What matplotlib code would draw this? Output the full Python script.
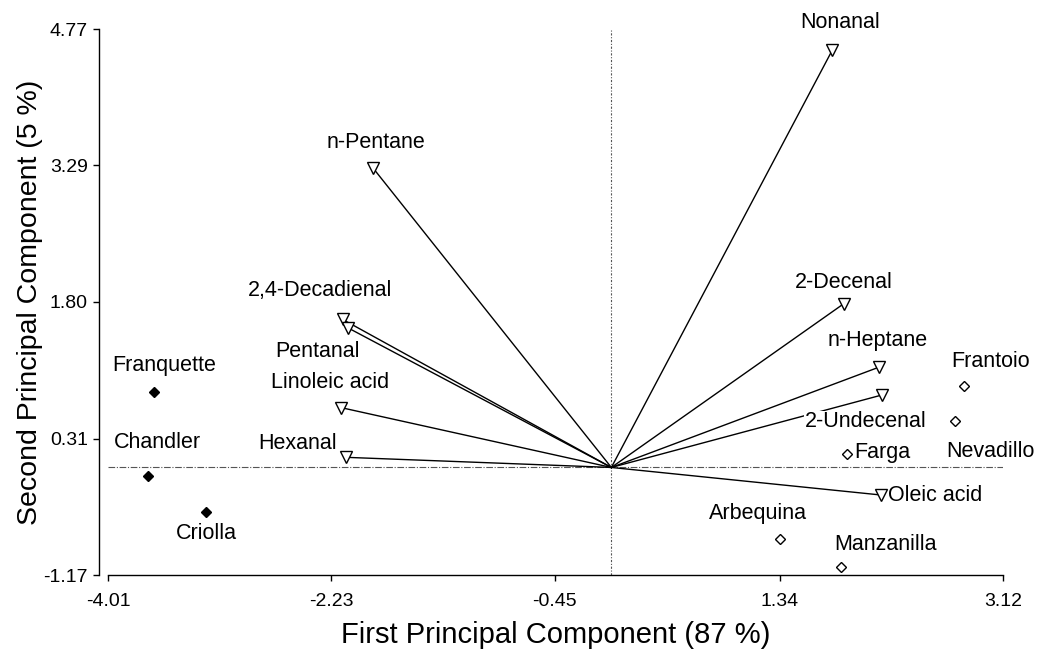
import matplotlib
matplotlib.use("Agg")
import matplotlib.pyplot as plt

# ── Data ──────────────────────────────────────────────────────────────────────

var_names = ["Nonanal", "n-Pentane", "2-Decenal", "n-Heptane", "2-Undecenal",
             "2,4-Decadienal", "Pentanal", "Linoleic acid", "Hexanal", "Oleic acid"]
var_x = [1.76, -1.90, 1.85, 2.13, 2.16, -2.14, -2.10, -2.15, -2.11, 2.15]
var_y = [4.54, 3.26, 1.78, 1.09, 0.79, 1.61, 1.52, 0.65, 0.11, -0.30]

cult_names = ["Franquette", "Chandler", "Criolla", "Frantoio", "Nevadillo",
              "Farga", "Arbequina", "Manzanilla"]
cult_x = [-3.64, -3.69, -3.23, 2.81, 2.74, 1.88, 1.34, 1.83]
cult_y = [0.82, -0.09, -0.48, 0.89, 0.51, 0.15, -0.78, -1.08]
cult_filled = [True, True, True, False, False, False, False, False]

xticks = [-4.01, -2.23, -0.45, 1.34, 3.12]
yticks = [-1.17, 0.31, 1.80, 3.29, 4.77]

# label offsets in pixels (dx, dy, ha)
VAR_OFF = {
    "Nonanal":        (8, 28, "center"),
    "n-Pentane":      (3, 25, "center"),
    "2-Decenal":      (0, 21, "center"),
    "n-Heptane":      (-1, 27, "center"),
    "2-Undecenal":    (-17, -27, "center"),
    "2,4-Decadienal": (-23, 29, "center"),
    "Pentanal":       (-30, -24, "center"),
    "Linoleic acid":  (-11, 25, "center"),
    "Hexanal":        (-49, 14, "center"),
    "Oleic acid":     (7, 0, "left"),
}
CULT_OFF = {
    "Franquette": (10, 27, "center"),
    "Chandler":   (9, 33, "center"),
    "Criolla":    (0, -22, "center"),
    "Frantoio":   (26, 24, "center"),
    "Nevadillo":  (35, -31, "center"),
    "Farga":      (7, 1, "left"),
    "Arbequina":  (-22, 26, "center"),
    "Manzanilla": (44, 22, "center"),
}

plt.rcParams["font.family"] = ["Liberation Sans", "DejaVu Sans"]

fig = plt.figure(figsize=(10.39, 6.5), dpi=100)
ax = fig.add_axes([108 / 1039, 75 / 650, 895 / 1039, 546 / 650])
ax.set_xlim(-4.01, 3.12)
ax.set_ylim(-1.17, 4.77)

# reference axes through origin
ax.axvline(0, color="#555555", lw=0.8, ls=(0, (2, 1.5, 1, 1.5)), zorder=1)
ax.axhline(0, color="#555555", lw=0.8, ls=(0, (6, 1.5, 1, 1.5)), zorder=1)

# loading vectors
for x, y in zip(var_x, var_y):
    ax.plot([0, x], [0, y], color="black", lw=1.0, zorder=2)
ax.plot(var_x, var_y, ls="none", marker="v", ms=8, mfc="white",
        mec="black", mew=1.0, zorder=4)

for name, x, y in zip(var_names, var_x, var_y):
    dx, dy, ha = VAR_OFF[name]
    bbox = None
    if name == "2-Undecenal":
        bbox = dict(facecolor="white", edgecolor="none", pad=0.5)
    ax.annotate(name, (x, y), xytext=(dx, dy), textcoords="offset pixels",
                ha=ha, va="center", fontsize=15.5, zorder=5, bbox=bbox)

# cultivars
for name, x, y, filled in zip(cult_names, cult_x, cult_y, cult_filled):
    ax.plot(x, y, ls="none", marker="D", ms=5.5 if filled else 5,
            mfc="black" if filled else "white", mec="black", mew=1.0, zorder=4)
    dx, dy, ha = CULT_OFF[name]
    ax.annotate(name, (x, y), xytext=(dx, dy), textcoords="offset pixels",
                ha=ha, va="center", fontsize=15.5, zorder=5)

# axes styling
ax.spines[["top", "right"]].set_visible(False)
ax.spines["left"].set_position(("outward", 6.5))
ax.spines["left"].set_linewidth(1.0)
ax.spines["bottom"].set_linewidth(1.0)
ax.set_xticks(xticks)
ax.set_xticklabels([f"{v:.2f}" for v in xticks])
ax.set_yticks(yticks)
ax.set_yticklabels([f"{v:.2f}" for v in yticks])
ax.tick_params(direction="out", length=4, width=1.0, labelsize=14)
ax.tick_params(axis="x", pad=9)
ax.tick_params(axis="y", pad=4)

ax.set_xlabel("First Principal Component (87 %)", fontsize=21, labelpad=8)
ax.set_ylabel("Second Principal Component (5 %)", fontsize=20.5)
ax.yaxis.set_label_coords(-0.073, 0.5)

fig.savefig("out.png", dpi=100, facecolor="white")
